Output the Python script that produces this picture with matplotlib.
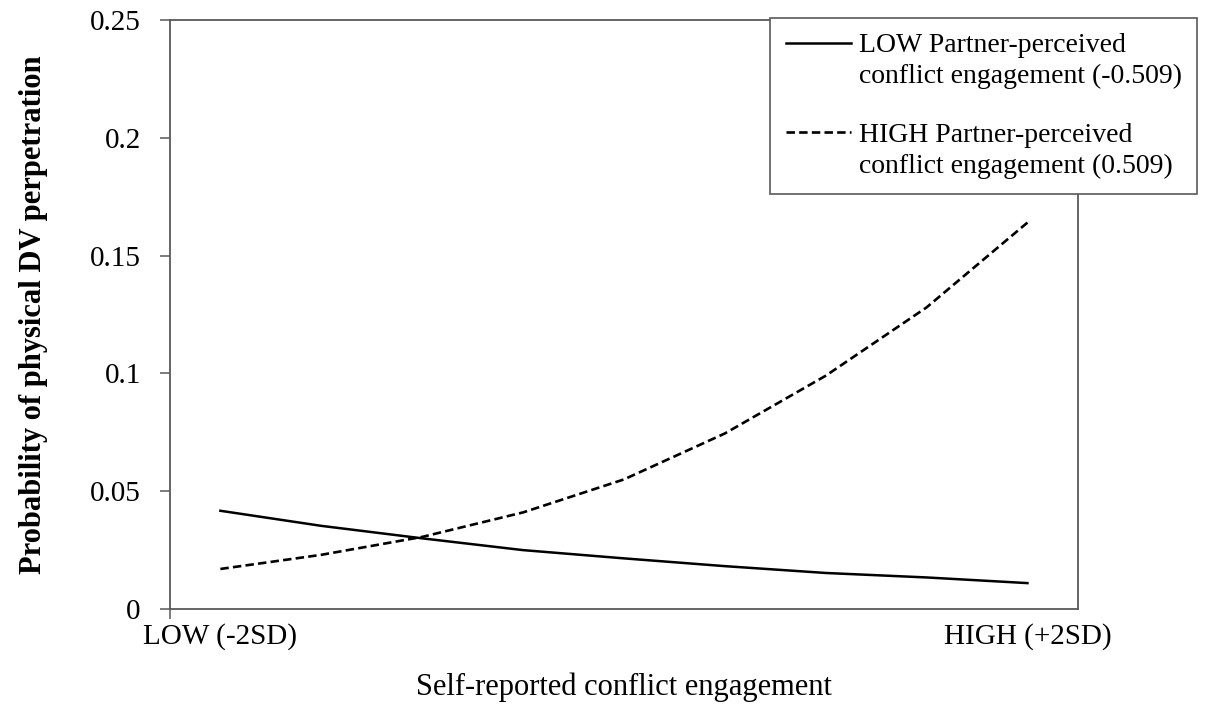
import matplotlib.pyplot as plt
from matplotlib.legend_handler import HandlerLine2D
import numpy as np

plt.rcParams['font.family'] = ['Liberation Serif', 'DejaVu Serif']

# predicted probabilities across self-reported conflict engagement (-2SD .. +2SD)
steps = list(range(9))
tick_pos = [0, 8]
tick_labels = ["LOW (-2SD)", "HIGH (+2SD)"]
low_partner = [0.0417, 0.0353, 0.0300, 0.0250, 0.0215, 0.0182, 0.0153, 0.0134, 0.0110]
high_partner = [0.0170, 0.0230, 0.0306, 0.0410, 0.0550, 0.0745, 0.0990, 0.1280, 0.1640]
low_label = "LOW Partner-perceived\nconflict engagement (-0.509)"
high_label = "HIGH Partner-perceived\nconflict engagement (0.509)"


class TopLine(HandlerLine2D):
    # put the legend sample next to the first text line, like Excel does
    def create_artists(self, legend, orig_handle, xdescent, ydescent, width, height, fontsize, trans):
        arts = super().create_artists(legend, orig_handle, xdescent, ydescent, width, height, fontsize, trans)
        for a in arts:
            a.set_ydata(np.asarray(a.get_ydata()) + 0.66 * fontsize)
        return arts


fig = plt.figure(figsize=(12.13, 7.08), dpi=100)
ax = fig.add_axes([0.1401, 0.1398, 0.8886 - 0.1401, 0.9718 - 0.1398])

ax.plot(steps, low_partner, color='black', linewidth=1.8, label=low_label)
ax.plot(steps, high_partner, color='black', linewidth=1.9, linestyle=(0, (3.2, 1.6)), label=high_label)

ax.set_xlim(-0.5, 8.5)
ax.set_ylim(0, 0.25)
ax.set_yticks([0, 0.05, 0.1, 0.15, 0.2, 0.25])
ax.set_yticklabels(["0", "0.05", "0.1", "0.15", "0.2", "0.25"])
ax.set_xticks(tick_pos)
ax.set_xticklabels(tick_labels)
ax.set_xticks([-0.5], minor=True)

for s in ax.spines.values():
    s.set_color('#595959')
    s.set_linewidth(1.3)

ax.tick_params(axis='y', direction='out', length=7, width=1.1, color='#595959', labelsize=21, pad=14)
ax.tick_params(axis='x', which='major', length=0, labelsize=21, pad=10)
ax.tick_params(axis='x', which='minor', direction='out', length=7, width=1.1, color='#595959')

ax.set_xlabel("Self-reported conflict engagement", fontsize=22, labelpad=16)
ax.set_ylabel("Probability of physical DV perpetration", fontsize=22, fontweight='bold', labelpad=30)

leg = ax.legend(loc='upper left', bbox_to_anchor=(0.635, 0.975), bbox_transform=fig.transFigure,
                fontsize=20, frameon=True, fancybox=False, edgecolor='#595959', framealpha=1,
                handlelength=2.35, handletextpad=0.3, labelspacing=1.2, borderpad=0.55,
                borderaxespad=0, handler_map={plt.Line2D: TopLine()})
leg.get_frame().set_linewidth(1.2)
for t in leg.get_texts():
    t.set_linespacing(1.32)

fig.savefig('out.png', dpi=100)
